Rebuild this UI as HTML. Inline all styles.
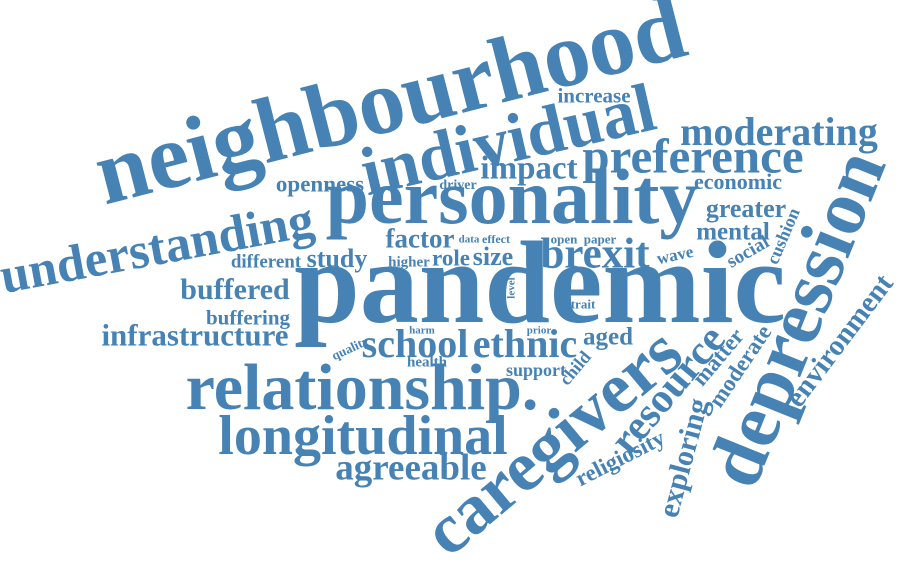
<!DOCTYPE html>
<html><head><meta charset="utf-8">
<style>
html,body{margin:0;padding:0;background:#fff;}
#cloud{position:relative;width:900px;height:565px;overflow:hidden;background:#fff;}
.w{position:absolute;left:0;top:0;font-family:"Liberation Serif","DejaVu Serif",serif;font-weight:bold;color:#4682b4;white-space:nowrap;line-height:1;transform-origin:50% 50%;}
</style></head>
<body>
<div id="cloud"></div>
<script>
// word, center x, center y, font size, rotation (deg)
const words = ["neighbourhood","pandemic","personality","individual","understanding","preference","moderating","increase","impact","openness","driver","economic","greater","mental","factor","data","effect","open","paper","brexit","study","higher","role","size","different","wave","social","cushion","buffered","buffering","infrastructure","level","trait","harm","prior","quality","school","ethnic","aged","health","support","child","relationship.","longitudinal","agreeable","caregivers","resource","religiosity","exploring","matter","moderate","depression","environment"];
const xs = [390,540,512,508,157,693,779,594,529,320,458,738,746,733,420,469,496,564,600,595,337,409,451,493,266,675,748,783,235,248,195,512,583,422,539,350,415,525,608,427,536,575,362,363,411,553,668,620,684,718,740,796,840];
const ys = [100,283,197,140,249,156,132,96,169,184,186,182,209,232,239,240,239,239,239,254,259,263,258,257,262,255,252,236,290,318,335,288,304,331,331,348,344,344,337,363,370,368,388,436,468,442,390,458,458,357,366,318,341];
const sizes = [93,118,78,69,51,49,40,21,33,23,14,22,26,25,27,11,12,13,13,43,26,15,23,26,19,17,19,18,30,21,31,11,13,11,11,13,40,40,25,15,18,18,66,56,37,71,42,23,30,23,23,78,29];
const rots = [-14.4,0,0,-13,-10.5,0,0,0,0,0,0,0,0,0,0,0,0,0,0,0,0,0,0,0,0,-12,-30,-67,0,0,0,-90,0,0,0,-25,0,0,0,0,0,-50,0,0,0,-40,-50,-27,-75,-50,-56,-68,-53];
const cloud = document.getElementById('cloud');
words.forEach((t,i)=>{
  const el = document.createElement('span');
  el.className='w';
  el.textContent=t;
  
  
  el.style.fontSize=sizes[i]+'px';
  el.style.left=xs[i]+'px';
  el.style.top=ys[i]+'px';
  el.style.transform='translate(-50%,-50%) rotate('+rots[i]+'deg)';
  cloud.appendChild(el);
});
</script>
</body></html>
